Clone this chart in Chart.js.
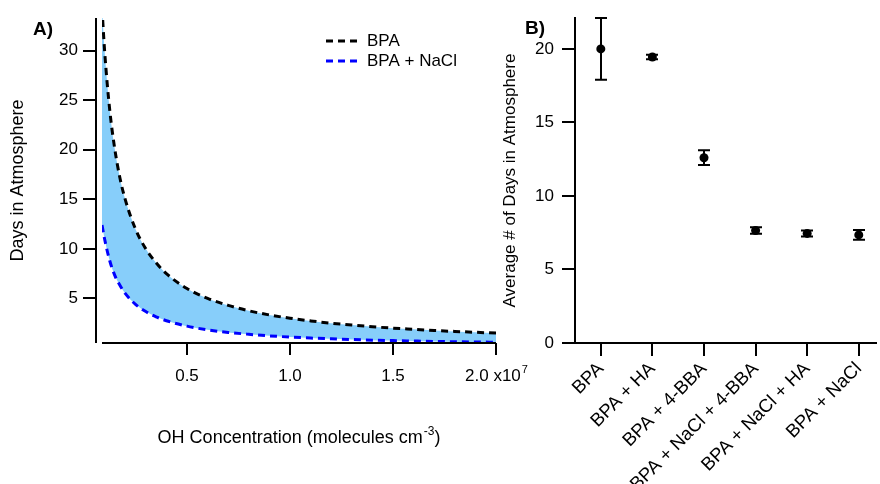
<!DOCTYPE html>
<html><head><meta charset="utf-8">
<script src="https://cdn.jsdelivr.net/npm/chart.js@4.4.0/dist/chart.umd.min.js"></script>
<style>
html,body{margin:0;padding:0;background:#fff;overflow:hidden;width:880px;height:484px;}
#a{position:absolute;left:0;top:0;}
#b{position:absolute;left:490px;top:0;}
</style></head><body>
<canvas id="a" width="540" height="484"></canvas>
<canvas id="b" width="390" height="484"></canvas>
<script>
// ---- Panel A data (OH concentration in units of 1e7 molecules cm^-3) ----
const ohConc      = [0.0874, 0.1, 0.125, 0.15, 0.175, 0.2, 0.25, 0.3, 0.35, 0.4, 0.5, 0.6, 0.7, 0.8, 0.9, 1.0, 1.1, 1.2, 1.3, 1.4, 1.5, 1.6, 1.7, 1.8, 1.9, 2.0];
const bpaDays     = [34.3, 30.0, 24.0, 20.0, 17.1, 15.0, 12.0, 10.0, 8.6, 7.5, 6.0, 5.0, 4.3, 3.75, 3.33, 3.0, 2.73, 2.5, 2.31, 2.14, 2.0, 1.88, 1.76, 1.67, 1.58, 1.5];
const bpaNaclDays = [12.4, 11.0, 8.8, 7.3, 6.3, 5.5, 4.4, 3.67, 3.14, 2.75, 2.2, 1.83, 1.57, 1.38, 1.22, 1.1, 1.0, 0.92, 0.85, 0.79, 0.74, 0.7, 0.66, 0.63, 0.6, 0.58];
const xTickValuesA = [0.5, 1.0, 1.5, 2.0];
const xTickLabelsA = ['0.5', '1.0', '1.5', '2.0'];
const xExponentA = '7';
const yTickValuesA = [5, 10, 15, 20, 25, 30];
const seriesNamesA = ['BPA', 'BPA + NaCl'];

// ---- Panel B data ----
const categories = ['BPA', 'BPA + HA', 'BPA + 4-BBA', 'BPA + NaCl + 4-BBA', 'BPA + NaCl + HA', 'BPA + NaCl'];
const avgDays    = [20.0, 19.45, 12.6, 7.65, 7.45, 7.35];
const errDays    = [2.1, 0.15, 0.5, 0.22, 0.2, 0.33];
const yTickValuesB = [0, 5, 10, 15, 20];

const FONT = '"Liberation Sans", Arial, Helvetica, sans-serif';
const BLACK = '#000000';
const BLUE = '#0000ff';
const FILL = '#87cefa';

const panelA = {
  id: 'panelA',
  afterDraw(chart) {
    const {ctx, chartArea: ca, scales: {x, y}} = chart;
    ctx.save();
    ctx.strokeStyle = BLACK; ctx.lineWidth = 2; ctx.setLineDash([]);
    const yx = ca.left - 6;
    ctx.beginPath();
    ctx.moveTo(yx, ca.top); ctx.lineTo(yx, ca.bottom);
    yTickValuesA.forEach(v => { const p = Math.round(y.getPixelForValue(v)); ctx.moveTo(yx - 13, p); ctx.lineTo(yx, p); });
    ctx.moveTo(ca.left, ca.bottom); ctx.lineTo(ca.right, ca.bottom);
    xTickValuesA.forEach(v => { const p = Math.round(x.getPixelForValue(v)); ctx.moveTo(p, ca.bottom); ctx.lineTo(p, ca.bottom + 12); });
    ctx.stroke();

    // x tick labels
    ctx.fillStyle = BLACK;
    ctx.textBaseline = 'alphabetic';
    const base = 381;
    xTickValuesA.forEach((v, i) => {
      const p = x.getPixelForValue(v);
      if (i === xTickValuesA.length - 1) {
        ctx.font = '17px ' + FONT;
        const main = xTickLabelsA[i] + ' x10';
        const w1 = ctx.measureText(main).width;
        ctx.font = '11px ' + FONT;
        const w2 = ctx.measureText(xExponentA).width;
        const sx = p - (w1 + w2) / 2;
        ctx.textAlign = 'left';
        ctx.font = '17px ' + FONT;
        ctx.fillText(main, sx, base);
        ctx.font = '11px ' + FONT;
        ctx.fillText(xExponentA, sx + w1 + 1, base - 8);
      } else {
        ctx.font = '17px ' + FONT;
        ctx.textAlign = 'center';
        ctx.fillText(xTickLabelsA[i], p, base);
      }
    });

    // x title
    const t1 = 'OH Concentration (molecules cm', t2 = '-3', t3 = ')';
    ctx.font = '18px ' + FONT; const a1 = ctx.measureText(t1).width, a3 = ctx.measureText(t3).width;
    ctx.font = '12px ' + FONT; const a2 = ctx.measureText(t2).width;
    let tx = (ca.left + ca.right) / 2 - (a1 + a2 + a3 + 1) / 2;
    ctx.textAlign = 'left';
    ctx.font = '18px ' + FONT; ctx.fillText(t1, tx, 443);
    ctx.font = '12px ' + FONT; ctx.fillText(t2, tx + a1 + 1, 435);
    ctx.font = '18px ' + FONT; ctx.fillText(t3, tx + a1 + a2 + 1, 443);

    // y title
    ctx.save();
    ctx.translate(18, (ca.top + ca.bottom) / 2);
    ctx.rotate(-Math.PI / 2);
    ctx.textAlign = 'center'; ctx.textBaseline = 'middle';
    ctx.font = '18px ' + FONT;
    ctx.fillText('Days in Atmosphere', 0, 0);
    ctx.restore();

    // legend
    const ds = chart.data.datasets;
    [41, 61].forEach((ly, i) => {
      ctx.strokeStyle = ds[i].borderColor; ctx.lineWidth = 3; ctx.setLineDash([7, 5]);
      ctx.beginPath(); ctx.moveTo(326, ly); ctx.lineTo(359, ly); ctx.stroke();
      ctx.setLineDash([]);
      ctx.fillStyle = BLACK; ctx.font = '17px ' + FONT; ctx.textAlign = 'left'; ctx.textBaseline = 'middle';
      ctx.fillText(seriesNamesA[i], 367, ly);
    });

    // panel letter
    ctx.font = 'bold 19px ' + FONT; ctx.textAlign = 'left'; ctx.textBaseline = 'alphabetic';
    ctx.fillText('A)', 33, 35);
    ctx.restore();
  }
};

new Chart(document.getElementById('a'), {
  type: 'line',
  data: {
    datasets: [
      { label: seriesNamesA[0], data: ohConc.map((v, i) => ({x: v, y: bpaDays[i]})),
        borderColor: BLACK, borderWidth: 3, borderDash: [7, 5], pointRadius: 0, fill: false, cubicInterpolationMode: 'monotone' },
      { label: seriesNamesA[1], data: ohConc.map((v, i) => ({x: v, y: bpaNaclDays[i]})),
        borderColor: BLUE, borderWidth: 3, borderDash: [7, 5], pointRadius: 0, fill: '-1', backgroundColor: FILL, cubicInterpolationMode: 'monotone' }
    ]
  },
  options: {
    responsive: false, animation: false,
    layout: {padding: {top: 18, right: 44, left: 0, bottom: 0}},
    plugins: {legend: {display: false}, tooltip: {enabled: false}},
    scales: {
      x: { type: 'linear', min: ohConc[0], max: 2.0,
        grid: {display: false, drawTicks: false}, border: {display: false}, ticks: {display: false},
        afterBuildTicks: s => { s.ticks = xTickValuesA.map(v => ({value: v})); },
        afterFit: s => { s.height = 141; s.paddingLeft = 0; s.paddingRight = 0; } },
      y: { type: 'linear', min: 0.5, max: 33.3,
        grid: {display: false, drawTicks: false}, border: {display: false},
        ticks: {color: BLACK, font: {family: FONT, size: 17}, padding: 24, callback: v => String(v)},
        afterBuildTicks: s => { s.ticks = yTickValuesA.map(v => ({value: v})); },
        afterFit: s => { s.width = 102; s.paddingTop = 0; s.paddingBottom = 0; } }
    }
  },
  plugins: [panelA]
});

const panelB = {
  id: 'panelB',
  beforeDatasetsDraw(chart) {
    const {ctx, scales: {x, y}} = chart;
    ctx.save();
    ctx.strokeStyle = BLACK; ctx.lineWidth = 2;
    ctx.beginPath();
    avgDays.forEach((v, i) => {
      const px = Math.round(x.getPixelForValue(i));
      const top = y.getPixelForValue(v + errDays[i]);
      const bot = y.getPixelForValue(v - errDays[i]);
      ctx.moveTo(px, top); ctx.lineTo(px, bot);
      ctx.moveTo(px - 6, top); ctx.lineTo(px + 6, top);
      ctx.moveTo(px - 6, bot); ctx.lineTo(px + 6, bot);
    });
    ctx.stroke();
    ctx.restore();
  },
  afterDraw(chart) {
    const {ctx, chartArea: ca} = chart;
    ctx.save();
    ctx.fillStyle = BLACK;
    ctx.save();
    ctx.translate(20, (ca.top + ca.bottom) / 2);
    ctx.rotate(-Math.PI / 2);
    ctx.textAlign = 'center'; ctx.textBaseline = 'middle';
    ctx.font = '17px ' + FONT;
    ctx.fillText('Average # of Days in Atmosphere', 0, 0);
    ctx.restore();
    ctx.font = 'bold 19px ' + FONT; ctx.textAlign = 'left'; ctx.textBaseline = 'alphabetic';
    ctx.fillText('B)', 35, 34);
    ctx.restore();
  }
};

new Chart(document.getElementById('b'), {
  type: 'scatter',
  data: {
    datasets: [{ data: avgDays.map((v, i) => ({x: i, y: v})),
      backgroundColor: BLACK, borderColor: BLACK, borderWidth: 0, pointRadius: 4.5, pointHoverRadius: 4.5 }]
  },
  options: {
    responsive: false, animation: false,
    layout: {padding: {top: 18, right: 0, left: 0, bottom: 0}},
    plugins: {legend: {display: false}, tooltip: {enabled: false}},
    scales: {
      x: { type: 'linear', min: -0.5, max: 5.324,
        grid: {display: true, drawOnChartArea: false, drawTicks: true, tickLength: 13, color: BLACK, lineWidth: 2},
        border: {display: true, color: BLACK, width: 2},
        ticks: {color: BLACK, font: {family: FONT, size: 18.5}, padding: 2, minRotation: 45, maxRotation: 45, autoSkip: false,
          callback: v => categories[v] || ''},
        afterBuildTicks: s => { s.ticks = categories.map((c, i) => ({value: i})); },
        afterFit: s => { s.height = 141; s.paddingLeft = 0; s.paddingRight = 0; } },
      y: { type: 'linear', min: 0, max: 22.1,
        grid: {display: true, drawOnChartArea: false, drawTicks: true, tickLength: 13, color: BLACK, lineWidth: 2},
        border: {display: true, color: BLACK, width: 2},
        ticks: {color: BLACK, font: {family: FONT, size: 17}, padding: 8, callback: v => String(v)},
        afterBuildTicks: s => { s.ticks = yTickValuesB.map(v => ({value: v})); },
        afterFit: s => { s.width = 85; s.paddingTop = 0; s.paddingBottom = 0; } }
    }
  },
  plugins: [panelB]
});
</script>
</body></html>
